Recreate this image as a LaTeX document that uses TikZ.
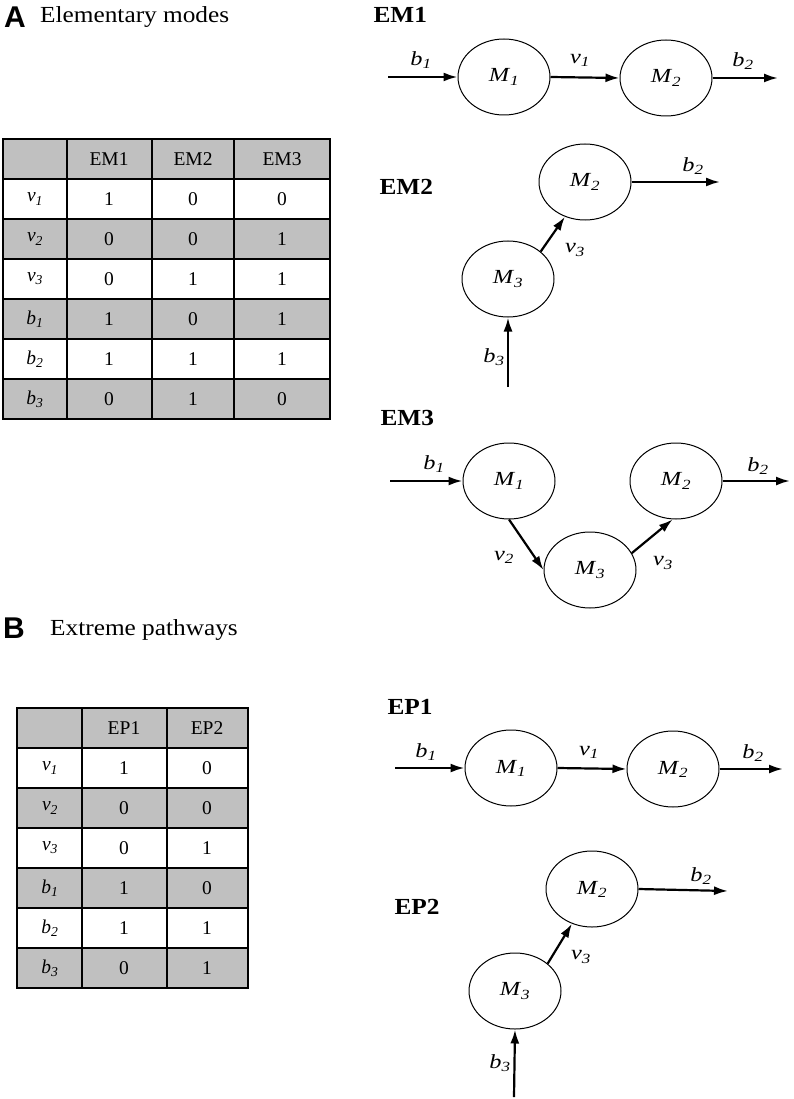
\documentclass[tikz,border=0pt]{standalone}
\usepackage{fontspec}
\setmainfont{Liberation Serif}
\newfontfamily\panelfont{Liberation Sans}
\newfontfamily\diagfont{Liberation Serif}[FakeStretch=1.22]
\newfontfamily\headfont{Liberation Serif}[FakeStretch=1.1]
\usepackage{tikz}
\usetikzlibrary{arrows.meta}
\usetikzlibrary{shapes.geometric}
\definecolor{cellgray}{RGB}{192,192,192}
\newcommand{\flx}[2]{\textit{#1}\textsubscript{\textit{#2}}}
\tikzset{arrow/.style={-{Latex[length=14pt,width=9pt]}, line width=2.2pt}}
\tikzset{metab/.style={draw, ellipse, line width=1pt, minimum width=92pt, minimum height=76pt, inner sep=0pt, font=\fontsize{20}{20}\diagfont}}
\tikzset{flux/.style={font=\fontsize{20}{20}\diagfont}}
\tikzset{mode/.style={anchor=west, font=\fontsize{23}{23}\headfont\bfseries}}
\tikzset{cell/.style={font=\fontsize{19.5}{19.5}\selectfont}}
\tikzset{grid/.style={line width=2pt}}

\begin{document}
\begin{tikzpicture}[x=1pt, y=-1pt]
    \useasboundingbox (0,0) rectangle (793,1099);

    % panel headings
    \node[anchor=west, inner sep=0pt, font=\fontsize{30}{30}\panelfont\bfseries] (pa) at (4,17) {A};
    \node[anchor=west, inner sep=0pt, font=\fontsize{23}{23}\headfont] (pat) at (40,17) {Elementary modes};
    \node[anchor=west, inner sep=0pt, font=\fontsize{30}{30}\panelfont\bfseries] (pb) at (3,628) {B};
    \node[anchor=west, inner sep=0pt, font=\fontsize{23}{23}\headfont] (pbt) at (50,630) {Extreme pathways};

    % table A
    \fill[cellgray] (3,139) rectangle (330,179);
    \foreach \r in {2,4,6}
        \fill[cellgray] (3,139+40*\r) rectangle (330,179+40*\r);
    \draw[grid] (3,139) rectangle (330,419);
    \foreach \r in {1,...,6}
        \draw[grid] (3,139+40*\r) -- (330,139+40*\r);
    \foreach \c in {67,152,234}
        \draw[grid] (\c,139) -- (\c,419);
    \node[cell] (ta1) at (109,159) {EM1};
    \node[cell] (ta2) at (193,159) {EM2};
    \node[cell] (ta3) at (282,159) {EM3};
    \foreach \x/\s/\a/\b/\c [count=\i] in {v/1/1/0/0, v/2/0/0/1, v/3/0/1/1, b/1/1/0/1, b/2/1/1/1, b/3/0/1/0} {
        \node[cell] (ta-\i-0) at (35,159+40*\i) {\flx{\x}{\s}};
        \node[cell] (ta-\i-1) at (109,159+40*\i) {\a};
        \node[cell] (ta-\i-2) at (193,159+40*\i) {\b};
        \node[cell] (ta-\i-3) at (282,159+40*\i) {\c};
    }

    % table B
    \fill[cellgray] (17,708) rectangle (248,748);
    \foreach \r in {2,4,6}
        \fill[cellgray] (17,708+40*\r) rectangle (248,748+40*\r);
    \draw[grid] (17,708) rectangle (248,988);
    \foreach \r in {1,...,6}
        \draw[grid] (17,708+40*\r) -- (248,708+40*\r);
    \foreach \c in {82,167}
        \draw[grid] (\c,708) -- (\c,988);
    \node[cell] (tb1) at (124,728) {EP1};
    \node[cell] (tb2) at (207,728) {EP2};
    \foreach \x/\s/\a/\b [count=\i] in {v/1/1/0, v/2/0/0, v/3/0/1, b/1/1/0, b/2/1/1, b/3/0/1} {
        \node[cell] (tb-\i-0) at (50,728+40*\i) {\flx{\x}{\s}};
        \node[cell] (tb-\i-1) at (124,728+40*\i) {\a};
        \node[cell] (tb-\i-2) at (207,728+40*\i) {\b};
    }

    % EM1
    \node[mode] (em1) at (370,15) {EM1};
    \node[metab] (em1m1) at (504,77) {\flx{M}{1}};
    \node[metab] (em1m2) at (666,78) {\flx{M}{2}};
    \coordinate (em1in) at (388,77);
    \coordinate (em1out) at (778,78);
    \draw[arrow] (em1in) -- (em1m1.west);
    \draw[arrow] (em1m1.east) -- (em1m2.west);
    \draw[arrow] (em1m2.east) -- (em1out);
    \node[flux] (em1b1) at (421,60) {\flx{b}{1}};
    \node[flux] (em1v1) at (580,60) {\flx{v}{1}};
    \node[flux] (em1b2) at (743,61) {\flx{b}{2}};

    % EM2
    \node[mode] (em2) at (376,187) {EM2};
    \node[metab] (em2m2) at (585,182) {\flx{M}{2}};
    \node[metab] (em2m3) at (508,279) {\flx{M}{3}};
    \coordinate (em2out) at (720,182);
    \coordinate (em2in) at (508,387);
    \draw[arrow] (em2m2.east) -- (em2out);
    \draw[arrow] (em2m3.40) -- (em2m2.240);
    \draw[arrow] (em2in) -- (em2m3.south);
    \node[flux] (em2b2) at (693,166) {\flx{b}{2}};
    \node[flux] (em2v3) at (575,250) {\flx{v}{3}};
    \node[flux] (em2b3) at (494,357) {\flx{b}{3}};

    % EM3
    \node[mode] (em3) at (377,418) {EM3};
    \node[metab] (em3m1) at (509,481) {\flx{M}{1}};
    \node[metab] (em3m2) at (676,481) {\flx{M}{2}};
    \node[metab] (em3m3) at (590,570) {\flx{M}{3}};
    \coordinate (em3in) at (390,481);
    \coordinate (em3out) at (790,481);
    \draw[arrow] (em3in) -- (em3m1.west);
    \draw[arrow] (em3m2.east) -- (em3out);
    \draw[arrow] (em3m1.south) -- (em3m3.west);
    \draw[arrow] (em3m3.22) -- (em3m2.265);
    \node[flux] (em3b1) at (434,464) {\flx{b}{1}};
    \node[flux] (em3b2) at (758,466) {\flx{b}{2}};
    \node[flux] (em3v2) at (504,557) {\flx{v}{2}};
    \node[flux] (em3v3) at (663,563) {\flx{v}{3}};

    % EP1
    \node[mode] (ep1) at (384,707) {EP1};
    \node[metab] (ep1m1) at (511,768) {\flx{M}{1}};
    \node[metab] (ep1m2) at (673,769) {\flx{M}{2}};
    \coordinate (ep1in) at (395,768);
    \coordinate (ep1out) at (783,769);
    \draw[arrow] (ep1in) -- (ep1m1.west);
    \draw[arrow] (ep1m1.east) -- (ep1m2.west);
    \draw[arrow] (ep1m2.east) -- (ep1out);
    \node[flux] (ep1b1) at (426,752) {\flx{b}{1}};
    \node[flux] (ep1v1) at (589,752) {\flx{v}{1}};
    \node[flux] (ep1b2) at (753,753) {\flx{b}{2}};

    % EP2
    \node[mode] (ep2) at (391,907) {EP2};
    \node[metab] (ep2m2) at (592,889) {\flx{M}{2}};
    \node[metab] (ep2m3) at (515,991) {\flx{M}{3}};
    \coordinate (ep2out) at (728,891);
    \coordinate (ep2in) at (514,1097);
    \draw[arrow] (ep2m2.east) -- (ep2out);
    \draw[arrow] (ep2m3.40) -- (ep2m2.240);
    \draw[arrow] (ep2in) -- (ep2m3.south);
    \node[flux] (ep2b2) at (701,876) {\flx{b}{2}};
    \node[flux] (ep2v3) at (581,957) {\flx{v}{3}};
    \node[flux] (ep2b3) at (500,1063) {\flx{b}{3}};
\end{tikzpicture}
\end{document}
